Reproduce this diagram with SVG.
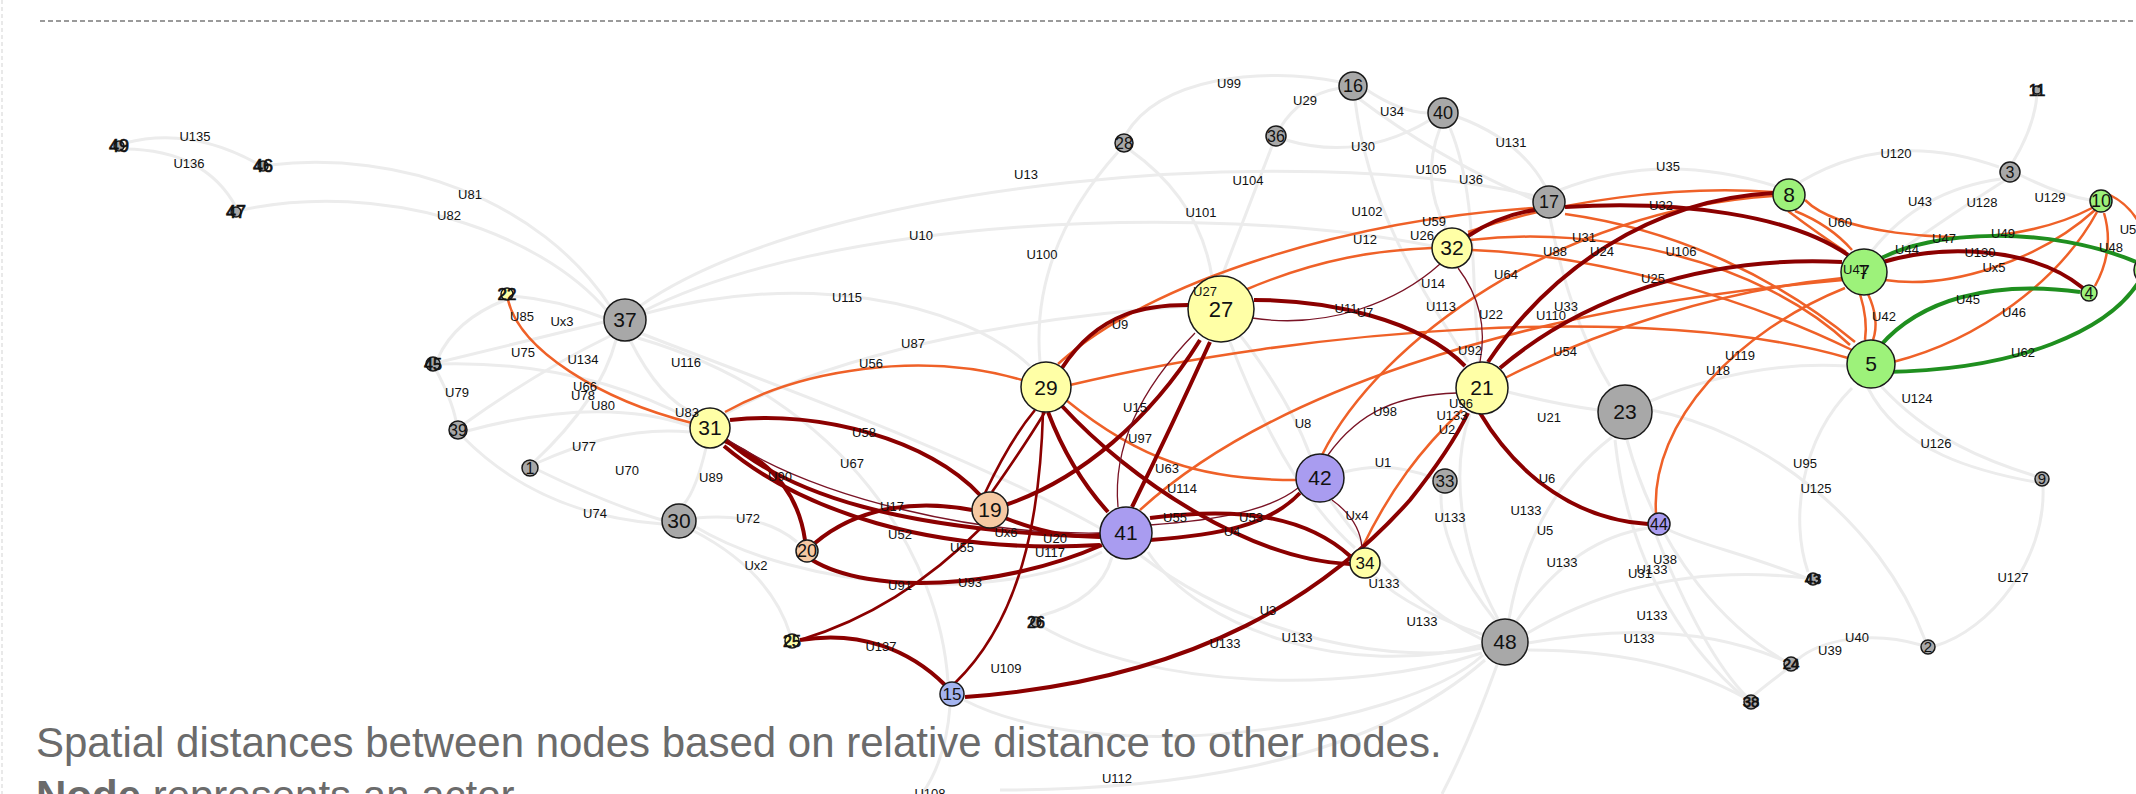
<svg xmlns="http://www.w3.org/2000/svg" width="2136" height="794" viewBox="0 0 2136 794">
<defs>
<style>
.g{stroke:#ececec;stroke-width:3;fill:none}
.r{stroke:#8b0000;stroke-width:4;fill:none}
.rm{stroke:#8b0000;stroke-width:2.6;fill:none}
.rt{stroke:#7a1426;stroke-width:1.3;fill:none}
.o{stroke:#ef6128;stroke-width:2.5;fill:none}
.gr{stroke:#1f8f1f;stroke-width:4;fill:none}
.el{font-family:"Liberation Sans",Arial,sans-serif;font-size:13px;fill:#111;text-anchor:middle}
.nl{font-family:"Liberation Sans",Arial,sans-serif;fill:#111;text-anchor:middle}
.tn{stroke:#111;stroke-width:0.7}
circle{stroke:#1a1a1a;stroke-width:1.5}
.cg{fill:#a8a8a8}.cy{fill:#ffffa6}.cp{fill:#f5c9a3}.cu{fill:#a99cf0}.cb{fill:#a4b4ef}.cn{fill:#9df27a}
.cap{font-family:"Liberation Sans",Arial,sans-serif;font-size:42px;fill:#6b6b6b}
</style>
</defs>
<rect width="2136" height="794" fill="#ffffff"/>
<line x1="40" y1="21" x2="2136" y2="21" stroke="#7a7a7a" stroke-width="1.5" stroke-dasharray="5 3"/>
<line x1="2" y1="0" x2="2" y2="794" stroke="#e2e2e2" stroke-width="1.5" stroke-dasharray="4 3"/>
<g id="connectors">
<g id="grey-edges">
<path class="g" d="M125,143 Q190,126 258,164"/>
<path class="g" d="M125,149 Q205,150 236,207"/>
<path class="g" d="M270,165 C400,150 540,200 610,306"/>
<path class="g" d="M242,210 C380,180 540,230 608,312"/>
<path class="g" d="M505,300 Q455,320 438,358"/>
<path class="g" d="M440,362 Q530,340 604,322"/>
<path class="g" d="M436,370 Q452,400 456,421"/>
<path class="g" d="M464,424 Q540,370 610,336"/>
<path class="g" d="M467,431 Q600,395 690,426"/>
<path class="g" d="M537,463 Q620,425 690,432"/>
<path class="g" d="M538,470 Q610,505 662,520"/>
<path class="g" d="M463,437 Q540,515 662,524"/>
<path class="g" d="M513,296 Q560,300 604,318"/>
<path class="g" d="M438,364 Q580,360 692,420"/>
<path class="g" d="M535,461 Q600,400 616,340"/>
<path class="g" d="M630,340 Q660,400 696,414"/>
<path class="g" d="M706,448 Q696,490 684,504"/>
<path class="g" d="M640,333 C760,380 960,450 1100,528"/>
<path class="g" d="M643,314 C800,270 960,300 1030,366"/>
<path class="g" d="M725,414 C850,345 1050,315 1190,306"/>
<path class="g" d="M640,306 C820,180 1300,140 1535,196"/>
<path class="g" d="M642,312 C820,220 1200,200 1432,246"/>
<path class="g" d="M696,518 Q762,512 797,542"/>
<path class="g" d="M692,530 Q770,570 790,634"/>
<path class="g" d="M694,526 C800,590 1000,605 1102,552"/>
<path class="g" d="M638,338 C850,400 940,560 948,682"/>
<path class="g" d="M950,706 Q946,760 922,794"/>
<path class="g" d="M1040,616 Q1100,600 1112,557"/>
<path class="g" d="M964,700 C1100,770 1400,730 1483,655"/>
<path class="g" d="M1118,152 Q1030,250 1040,362"/>
<path class="g" d="M1130,150 Q1200,200 1212,277"/>
<path class="g" d="M1272,146 Q1240,230 1222,276"/>
<path class="g" d="M1126,134 C1160,78 1260,66 1340,82"/>
<path class="g" d="M1280,128 Q1300,95 1340,88"/>
<path class="g" d="M1286,140 Q1360,162 1430,120"/>
<path class="g" d="M1367,90 Q1400,112 1428,113"/>
<path class="g" d="M1355,100 C1370,220 1430,300 1468,362"/>
<path class="g" d="M1440,128 Q1420,180 1446,228"/>
<path class="g" d="M1450,128 C1480,200 1470,300 1480,362"/>
<path class="g" d="M1458,117 Q1520,140 1545,186"/>
<path class="g" d="M1358,98 Q1440,160 1535,200"/>
<path class="g" d="M1560,190 Q1660,150 1775,186"/>
<path class="g" d="M1800,182 Q1890,128 1999,167"/>
<path class="g" d="M2001,179 Q1920,190 1872,251"/>
<path class="g" d="M2004,181 Q1950,215 1884,262"/>
<path class="g" d="M2020,175 Q2060,195 2090,200"/>
<path class="g" d="M2013,162 Q2035,125 2037,94"/>
<path class="g" d="M1240,335 Q1290,400 1310,455"/>
<path class="g" d="M1230,342 C1260,420 1300,500 1355,548"/>
<path class="g" d="M1880,385 C1930,440 1990,462 2035,476"/>
<path class="g" d="M1868,388 C1900,452 1980,472 2035,482"/>
<path class="g" d="M2043,487 C2046,560 1990,630 1935,646"/>
<path class="g" d="M1921,645 C1870,630 1820,640 1797,660"/>
<path class="g" d="M1786,670 Q1762,688 1753,696"/>
<path class="g" d="M1648,402 Q1750,360 1847,366"/>
<path class="g" d="M1852,388 C1800,440 1790,520 1808,572"/>
<path class="g" d="M1651,410 C1760,430 1880,520 1925,640"/>
<path class="g" d="M1806,578 C1750,555 1700,545 1669,530"/>
<path class="g" d="M1615,440 C1630,580 1700,660 1745,698"/>
<path class="g" d="M1627,440 C1660,560 1730,630 1785,661"/>
<path class="g" d="M1656,535 C1690,620 1720,670 1747,697"/>
<path class="g" d="M1508,392 Q1560,405 1598,410"/>
<path class="g" d="M1550,218 Q1570,320 1610,386"/>
<path class="g" d="M1344,472 Q1390,460 1433,478"/>
<path class="g" d="M1330,500 Q1400,600 1483,640"/>
<path class="g" d="M1140,555 C1250,640 1400,665 1482,648"/>
<path class="g" d="M1482,645 C1350,680 1200,630 1148,552"/>
<path class="g" d="M1484,635 C1440,620 1400,600 1375,577"/>
<path class="g" d="M1495,620 Q1440,550 1441,494"/>
<path class="g" d="M1498,619 C1460,550 1450,470 1470,414"/>
<path class="g" d="M1509,619 Q1530,500 1612,437"/>
<path class="g" d="M1516,622 Q1570,540 1648,528"/>
<path class="g" d="M1526,634 Q1650,560 1806,578"/>
<path class="g" d="M1528,643 Q1680,615 1785,661"/>
<path class="g" d="M1528,650 Q1660,650 1745,698"/>
<path class="g" d="M1482,653 C1350,695 1150,690 1041,626"/>
<path class="g" d="M1497,665 Q1470,740 1442,794"/>
<path class="g" d="M1485,660 C1360,770 1150,790 1000,790"/>
</g>
<g id="orange-edges">
<path class="o" d="M508,300 C520,350 600,400 692,423"/>
<path class="o" d="M725,412 C800,370 920,350 1022,380"/>
<path class="o" d="M1066,400 C1140,460 1200,480 1296,480"/>
<path class="o" d="M1140,510 C1260,400 1500,310 1843,280"/>
<path class="o" d="M1322,455 C1380,340 1560,210 1773,196"/>
<path class="o" d="M1362,548 C1390,490 1420,450 1462,410"/>
<path class="o" d="M1058,364 C1150,280 1350,220 1534,208"/>
<path class="o" d="M1245,290 C1320,258 1380,250 1432,248"/>
<path class="o" d="M1470,240 C1600,225 1760,260 1850,345"/>
<path class="o" d="M1472,250 C1600,255 1750,300 1852,350"/>
<path class="o" d="M1565,214 C1680,230 1780,280 1855,342"/>
<path class="o" d="M1468,232 C1560,200 1680,185 1773,192"/>
<path class="o" d="M1505,378 C1600,330 1720,290 1843,278"/>
<path class="o" d="M1070,385 C1300,330 1650,300 1848,358"/>
<path class="o" d="M1656,513 C1650,420 1740,330 1845,288"/>
<path class="o" d="M1795,211 Q1830,225 1852,250"/>
<path class="o" d="M1788,211 Q1820,235 1846,252"/>
<path class="o" d="M1860,294 Q1868,320 1865,340"/>
<path class="o" d="M1868,294 Q1880,320 1873,340"/>
<path class="o" d="M1805,200 C1840,235 1950,240 1990,236 Q2050,230 2092,208"/>
<path class="o" d="M1885,280 C1950,290 2040,260 2095,210"/>
<path class="o" d="M1893,362 C1980,340 2060,280 2097,212"/>
<path class="o" d="M2095,286 Q2115,250 2104,213"/>
<path class="o" d="M2110,195 Q2130,205 2140,225"/>
</g>
<g id="darkred-edges">
<path class="r" d="M730,420 C820,410 930,440 980,495"/>
<path class="r" d="M722,440 Q795,470 805,540"/>
<path class="r" d="M726,440 C790,495 900,530 1100,537"/>
<path class="r" d="M724,446 C800,510 930,555 1100,545"/>
<path class="rt" d="M728,440 C820,500 980,535 1100,533"/>
<path class="r" d="M815,543 C860,505 920,500 972,510"/>
<path class="r" d="M812,560 C870,595 1000,590 1102,545"/>
<path class="rm" d="M985,493 Q1010,440 1035,410"/>
<path class="rm" d="M992,492 Q1025,445 1045,412"/>
<path class="r" d="M1005,505 C1080,480 1150,420 1200,340"/>
<path class="r" d="M1005,518 Q1060,540 1100,535"/>
<path class="r" d="M800,640 C860,630 910,650 945,685"/>
<path class="rm" d="M800,640 Q900,610 982,527"/>
<path class="rm" d="M955,683 C1020,620 1040,520 1043,412"/>
<path class="r" d="M965,697 C1200,680 1330,590 1410,500 Q1450,450 1468,413"/>
<path class="r" d="M1048,412 Q1070,470 1108,512"/>
<path class="r" d="M1062,406 C1130,480 1250,560 1350,564"/>
<path class="r" d="M1210,342 Q1170,430 1132,507"/>
<path class="rt" d="M1195,333 Q1110,420 1118,507"/>
<path class="r" d="M1062,368 C1100,310 1150,305 1188,305"/>
<path class="r" d="M1254,300 C1330,300 1420,320 1465,366"/>
<path class="rt" d="M1252,318 C1330,330 1400,300 1440,264"/>
<path class="r" d="M1468,236 Q1500,215 1535,210"/>
<path class="rt" d="M1458,268 Q1490,310 1480,362"/>
<path class="r" d="M1565,207 C1680,200 1790,215 1848,255"/>
<path class="r" d="M1488,362 C1550,270 1650,200 1773,193"/>
<path class="r" d="M1500,368 C1580,300 1700,255 1842,262"/>
<path class="r" d="M1480,413 C1520,480 1580,520 1648,524"/>
<path class="r" d="M1883,262 C1940,245 2030,245 2083,288"/>
<path class="r" d="M1150,540 C1220,535 1270,525 1300,493"/>
<path class="rt" d="M1150,525 C1220,520 1270,510 1298,488"/>
<path class="r" d="M1150,518 C1250,505 1310,520 1350,556"/>
<path class="rt" d="M1332,500 Q1360,520 1362,548"/>
<path class="rt" d="M1328,455 C1360,410 1400,395 1457,393"/>
</g>
<g id="green-edges">
<path class="gr" d="M1878,260 C1930,230 2050,225 2136,262"/>
<path class="gr" d="M1880,346 C1920,300 1990,280 2080,292"/>
<path class="gr" d="M1885,372 C2020,370 2110,330 2140,280"/>
</g>
</g>
<g id="nodes">
<g id="n49"><circle class="cg" cx="119" cy="146" r="5"/><text class="nl tn" x="119" y="152" font-size="18">49</text></g>
<g id="n46"><circle class="cg" cx="263" cy="166" r="5"/><text class="nl tn" x="263" y="172" font-size="18">46</text></g>
<g id="n47"><circle class="cg" cx="236" cy="212" r="5"/><text class="nl tn" x="236" y="218" font-size="18">47</text></g>
<g id="n22"><circle class="cy" cx="507" cy="294" r="6"/><text class="nl tn" x="507" y="300" font-size="17">22</text></g>
<g id="n45"><circle class="cg" cx="433" cy="364" r="7"/><text class="nl tn" x="433" y="370" font-size="16">45</text></g>
<g id="n39"><circle class="cg" cx="458" cy="430" r="9"/><text class="nl" x="458" y="436" font-size="16">39</text></g>
<g id="n1"><circle class="cg" cx="530" cy="468" r="8"/><text class="nl" x="530" y="474" font-size="16">1</text></g>
<g id="n37"><circle class="cg" cx="625" cy="320" r="21"/><text class="nl" x="625" y="327" font-size="21">37</text></g>
<g id="n31"><circle class="cy" cx="710" cy="428" r="20"/><text class="nl" x="710" y="435" font-size="21">31</text></g>
<g id="n30"><circle class="cg" cx="679" cy="521" r="17"/><text class="nl" x="679" y="528" font-size="21">30</text></g>
<g id="n20"><circle class="cp" cx="807" cy="551" r="11"/><text class="nl" x="807" y="557" font-size="18">20</text></g>
<g id="n19"><circle class="cp" cx="990" cy="510" r="18"/><text class="nl" x="990" y="517" font-size="21">19</text></g>
<g id="n25"><circle class="cy" cx="792" cy="641" r="7"/><text class="nl tn" x="792" y="647" font-size="16">25</text></g>
<g id="n15"><circle class="cb" cx="952" cy="694" r="12"/><text class="nl" x="952" y="700" font-size="17">15</text></g>
<g id="n26"><circle class="cg" cx="1036" cy="622" r="5"/><text class="nl tn" x="1036" y="628" font-size="16">26</text></g>
<g id="n29"><circle class="cy" cx="1046" cy="387" r="25"/><text class="nl" x="1046" y="395" font-size="21">29</text></g>
<g id="n27"><circle class="cy" cx="1221" cy="309" r="33"/><text class="nl" x="1221" y="317" font-size="22">27</text></g>
<g id="n28"><circle class="cg" cx="1124" cy="143" r="9"/><text class="nl" x="1124" y="149" font-size="16">28</text></g>
<g id="n36"><circle class="cg" cx="1276" cy="136" r="10"/><text class="nl" x="1276" y="142" font-size="16">36</text></g>
<g id="n16"><circle class="cg" cx="1353" cy="86" r="14"/><text class="nl" x="1353" y="92" font-size="18">16</text></g>
<g id="n40"><circle class="cg" cx="1443" cy="113" r="15"/><text class="nl" x="1443" y="119" font-size="18">40</text></g>
<g id="n17"><circle class="cg" cx="1549" cy="202" r="16"/><text class="nl" x="1549" y="208" font-size="18">17</text></g>
<g id="n32"><circle class="cy" cx="1452" cy="248" r="20"/><text class="nl" x="1452" y="255" font-size="21">32</text></g>
<g id="n21"><circle class="cy" cx="1482" cy="388" r="26"/><text class="nl" x="1482" y="395" font-size="21">21</text></g>
<g id="n41"><circle class="cu" cx="1126" cy="533" r="26"/><text class="nl" x="1126" y="540" font-size="21">41</text></g>
<g id="n42"><circle class="cu" cx="1320" cy="478" r="24"/><text class="nl" x="1320" y="485" font-size="21">42</text></g>
<g id="n33"><circle class="cg" cx="1445" cy="481" r="12"/><text class="nl" x="1445" y="487" font-size="17">33</text></g>
<g id="n34"><circle class="cy" cx="1365" cy="563" r="15"/><text class="nl" x="1365" y="569" font-size="17">34</text></g>
<g id="n48"><circle class="cg" cx="1505" cy="642" r="23"/><text class="nl" x="1505" y="649" font-size="21">48</text></g>
<g id="n23"><circle class="cg" cx="1625" cy="412" r="27"/><text class="nl" x="1625" y="419" font-size="21">23</text></g>
<g id="n44"><circle class="cu" cx="1659" cy="524" r="11"/><text class="nl" x="1659" y="530" font-size="16">44</text></g>
<g id="n8"><circle class="cn" cx="1789" cy="195" r="16"/><text class="nl" x="1789" y="202" font-size="21">8</text></g>
<g id="n7"><circle class="cn" cx="1864" cy="272" r="23"/><text class="nl" x="1864" y="279" font-size="21">7</text></g>
<g id="n5"><circle class="cn" cx="1871" cy="364" r="24"/><text class="nl" x="1871" y="371" font-size="21">5</text></g>
<g id="n10"><circle class="cn" cx="2101" cy="201" r="11"/><text class="nl" x="2101" y="207" font-size="18">10</text></g>
<g id="n4"><circle class="cn" cx="2089" cy="293" r="8"/><text class="nl" x="2089" y="299" font-size="16">4</text></g>
<g id="n3"><circle class="cg" cx="2010" cy="172" r="10"/><text class="nl" x="2010" y="178" font-size="16">3</text></g>
<g id="n11"><circle class="cg" cx="2037" cy="90" r="4"/><text class="nl tn" x="2037" y="96" font-size="16">11</text></g>
<g id="nR"><circle class="cn" cx="2149" cy="270" r="15"/></g>
<g id="n9"><circle class="cg" cx="2042" cy="479" r="7"/><text class="nl" x="2042" y="484" font-size="15">9</text></g>
<g id="n43"><circle class="cg" cx="1813" cy="579" r="6"/><text class="nl tn" x="1813" y="584" font-size="15">43</text></g>
<g id="n2"><circle class="cg" cx="1928" cy="647" r="7"/><text class="nl" x="1928" y="652" font-size="15">2</text></g>
<g id="n24"><circle class="cg" cx="1791" cy="664" r="7"/><text class="nl tn" x="1791" y="669" font-size="15">24</text></g>
<g id="n38"><circle class="cg" cx="1751" cy="702" r="7"/><text class="nl tn" x="1751" y="707" font-size="15">38</text></g>
</g>
<g id="edge-labels">
<text class="el" x="195" y="141">U135</text>
<text class="el" x="189" y="168">U136</text>
<text class="el" x="470" y="199">U81</text>
<text class="el" x="449" y="220">U82</text>
<text class="el" x="522" y="321">U85</text>
<text class="el" x="562" y="326">Ux3</text>
<text class="el" x="523" y="357">U75</text>
<text class="el" x="583" y="364">U134</text>
<text class="el" x="686" y="367">U116</text>
<text class="el" x="457" y="397">U79</text>
<text class="el" x="585" y="391">U66</text>
<text class="el" x="583" y="400">U78</text>
<text class="el" x="603" y="410">U80</text>
<text class="el" x="687" y="417">U83</text>
<text class="el" x="584" y="451">U77</text>
<text class="el" x="627" y="475">U70</text>
<text class="el" x="711" y="482">U89</text>
<text class="el" x="595" y="518">U74</text>
<text class="el" x="748" y="523">U72</text>
<text class="el" x="756" y="570">Ux2</text>
<text class="el" x="780" y="481">U90</text>
<text class="el" x="864" y="437">U58</text>
<text class="el" x="852" y="468">U67</text>
<text class="el" x="892" y="511">U17</text>
<text class="el" x="900" y="539">U52</text>
<text class="el" x="962" y="552">U55</text>
<text class="el" x="1006" y="537">Ux6</text>
<text class="el" x="1055" y="543">U20</text>
<text class="el" x="1050" y="557">U117</text>
<text class="el" x="900" y="590">U91</text>
<text class="el" x="970" y="587">U93</text>
<text class="el" x="881" y="651">U137</text>
<text class="el" x="1006" y="673">U109</text>
<text class="el" x="930" y="798">U108</text>
<text class="el" x="1026" y="179">U13</text>
<text class="el" x="921" y="240">U10</text>
<text class="el" x="1042" y="259">U100</text>
<text class="el" x="847" y="302">U115</text>
<text class="el" x="913" y="348">U87</text>
<text class="el" x="871" y="368">U56</text>
<text class="el" x="1229" y="88">U99</text>
<text class="el" x="1305" y="105">U29</text>
<text class="el" x="1392" y="116">U34</text>
<text class="el" x="1363" y="151">U30</text>
<text class="el" x="1511" y="147">U131</text>
<text class="el" x="1248" y="185">U104</text>
<text class="el" x="1431" y="174">U105</text>
<text class="el" x="1471" y="184">U36</text>
<text class="el" x="1201" y="217">U101</text>
<text class="el" x="1367" y="216">U102</text>
<text class="el" x="1434" y="226">U59</text>
<text class="el" x="1365" y="244">U12</text>
<text class="el" x="1422" y="240">U26</text>
<text class="el" x="1584" y="242">U31</text>
<text class="el" x="1555" y="256">U88</text>
<text class="el" x="1506" y="279">U64</text>
<text class="el" x="1433" y="288">U14</text>
<text class="el" x="1205" y="296">U27</text>
<text class="el" x="1120" y="329">U9</text>
<text class="el" x="1346" y="313">U11</text>
<text class="el" x="1365" y="317">U7</text>
<text class="el" x="1441" y="311">U113</text>
<text class="el" x="1491" y="319">U22</text>
<text class="el" x="1566" y="311">U33</text>
<text class="el" x="1551" y="320">U110</text>
<text class="el" x="1470" y="355">U92</text>
<text class="el" x="1565" y="356">U54</text>
<text class="el" x="1135" y="412">U15</text>
<text class="el" x="1140" y="443">U97</text>
<text class="el" x="1303" y="428">U8</text>
<text class="el" x="1385" y="416">U98</text>
<text class="el" x="1461" y="408">U96</text>
<text class="el" x="1452" y="420">U133</text>
<text class="el" x="1447" y="434">U2</text>
<text class="el" x="1549" y="422">U21</text>
<text class="el" x="1383" y="467">U1</text>
<text class="el" x="1167" y="473">U63</text>
<text class="el" x="1182" y="493">U114</text>
<text class="el" x="1547" y="483">U6</text>
<text class="el" x="1175" y="522">U55</text>
<text class="el" x="1251" y="522">U53</text>
<text class="el" x="1232" y="536">U4</text>
<text class="el" x="1357" y="520">Ux4</text>
<text class="el" x="1450" y="522">U133</text>
<text class="el" x="1526" y="515">U133</text>
<text class="el" x="1545" y="535">U5</text>
<text class="el" x="1562" y="567">U133</text>
<text class="el" x="1384" y="588">U133</text>
<text class="el" x="1268" y="615">U3</text>
<text class="el" x="1422" y="626">U133</text>
<text class="el" x="1297" y="642">U133</text>
<text class="el" x="1225" y="648">U133</text>
<text class="el" x="1117" y="783">U112</text>
<text class="el" x="1668" y="171">U35</text>
<text class="el" x="1896" y="158">U120</text>
<text class="el" x="1920" y="206">U43</text>
<text class="el" x="1982" y="207">U128</text>
<text class="el" x="2050" y="202">U129</text>
<text class="el" x="1661" y="210">U32</text>
<text class="el" x="1840" y="227">U60</text>
<text class="el" x="2128" y="234">U5</text>
<text class="el" x="1944" y="243">U47</text>
<text class="el" x="2003" y="238">U49</text>
<text class="el" x="1907" y="254">U44</text>
<text class="el" x="1980" y="257">U130</text>
<text class="el" x="2111" y="252">U48</text>
<text class="el" x="1602" y="256">U24</text>
<text class="el" x="1681" y="256">U106</text>
<text class="el" x="1855" y="274">U41</text>
<text class="el" x="1994" y="272">Ux5</text>
<text class="el" x="1653" y="283">U25</text>
<text class="el" x="1968" y="304">U45</text>
<text class="el" x="2014" y="317">U46</text>
<text class="el" x="1884" y="321">U42</text>
<text class="el" x="2023" y="357">U62</text>
<text class="el" x="1740" y="360">U119</text>
<text class="el" x="1718" y="375">U18</text>
<text class="el" x="1917" y="403">U124</text>
<text class="el" x="1936" y="448">U126</text>
<text class="el" x="1805" y="468">U95</text>
<text class="el" x="1816" y="493">U125</text>
<text class="el" x="1665" y="564">U38</text>
<text class="el" x="1640" y="578">U31</text>
<text class="el" x="1652" y="574">U133</text>
<text class="el" x="2013" y="582">U127</text>
<text class="el" x="1652" y="620">U133</text>
<text class="el" x="1639" y="643">U133</text>
<text class="el" x="1857" y="642">U40</text>
<text class="el" x="1830" y="655">U39</text>
</g>
<g id="caption">
<text class="cap" x="36" y="757">Spatial distances between nodes based on relative distance to other nodes.</text>
<text class="cap" x="36" y="810"><tspan font-weight="bold">Node</tspan> represents an actor</text>
</g>
</svg>
